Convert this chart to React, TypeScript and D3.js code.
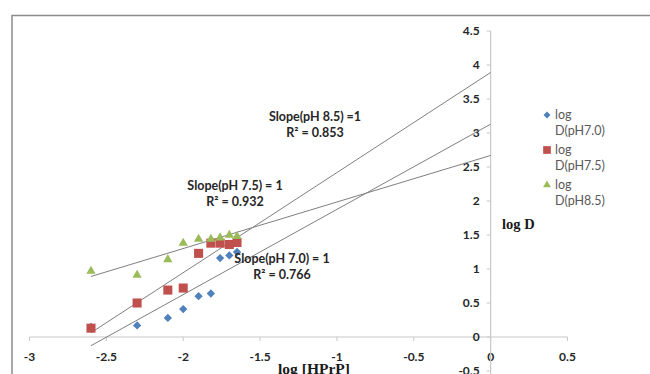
import React from "react";
import * as d3 from "d3";

const xValues = [-2.6, -2.3, -2.1, -2.0, -1.9, -1.82, -1.76, -1.7, -1.65];
const pH70 = [0.15, 0.17, 0.28, 0.41, 0.6, 0.64, 1.16, 1.2, 1.25];
const pH75 = [0.13, 0.5, 0.69, 0.72, 1.23, 1.38, 1.38, 1.36, 1.39];
const pH85 = [0.97, 0.91, 1.14, 1.38, 1.44, 1.44, 1.46, 1.5, 1.48];

const trendX = [-2.6, 0];
const trend70 = [-0.128, 3.13];
const trend75 = [0.063, 3.89];
const trend85 = [0.89, 2.67];

const xTicks = [-3, -2.5, -2, -1.5, -1, -0.5, 0, 0.5];
const yTicks = [-0.5, 0, 0.5, 1, 1.5, 2, 2.5, 3, 3.5, 4, 4.5];

const seriesNames = ["D(pH7.0)", "D(pH7.5)", "D(pH8.5)"];
const colors = ["#4F81BD", "#C0504D", "#9BBB59"];

const W = 650;
const H = 374;

export default function App() {
  const x = d3.scaleLinear().domain([-3, 0.5]).range([29.5, 567.5]);
  const y = d3.scaleLinear().domain([-0.5, 4.5]).range([371, 31]);
  const line = d3
    .line<[number, number]>()
    .x((d) => x(d[0]))
    .y((d) => y(d[1]));
  const tickFont = "Lato, 'Liberation Sans', sans-serif";
  const serif = "'Liberation Serif', 'DejaVu Serif', serif";
  const labelColor = "#262626";

  const diamond = d3.symbol().type(d3.symbolDiamond2).size(44)();
  const square = d3.symbol().type(d3.symbolSquare).size(82)();
  const triangle = d3.symbol().type(d3.symbolTriangle2).size(62)();
  const shapes = [diamond, square, triangle];
  const series = [pH70, pH75, pH85];
  const trends = [trend70, trend75, trend85];

  const trendLabels = [
    { cx: 282, cy: 259, a: "Slope(pH 7.0) = 1", b: "R² = 0.766" },
    { cx: 235, cy: 186, a: "Slope(pH 7.5) = 1", b: "R² = 0.932" },
    { cx: 315, cy: 117, a: "Slope(pH 8.5) =1", b: "R² = 0.853" },
  ];

  return (
    <svg
      width={W}
      height={H}
      style={{ position: "absolute", left: 0, top: 0, background: "#fff" }}
    >
      <rect x={0} y={0} width={W} height={H} fill="#fff" />
      <rect
        x={12}
        y={15.5}
        width={720}
        height={420}
        fill="#fff"
        stroke="#8c8c8c"
        strokeWidth={1.5}
      />
      {/* x axis */}
      <line x1={x(-3)} x2={x(0.5)} y1={y(0)} y2={y(0)} stroke="#c8c8c8" strokeWidth={1.2} />
      {xTicks.map((t) => (
        <g key={"xt" + t}>
          <line x1={x(t)} x2={x(t)} y1={y(0)} y2={y(0) + 4} stroke="#c8c8c8" />
          <text
            x={x(t)}
            y={y(0) + 24}
            textAnchor="middle"
            fontFamily={tickFont}
            fontWeight="bold"
            fontSize={12}
            fill={labelColor}
          >
            {t}
          </text>
        </g>
      ))}
      {/* y axis */}
      <line x1={x(0)} x2={x(0)} y1={y(4.5)} y2={H + 5} stroke="#c8c8c8" strokeWidth={1.2} />
      {yTicks.map((t) => (
        <g key={"yt" + t}>
          <line x1={x(0) - 4} x2={x(0)} y1={y(t)} y2={y(t)} stroke="#c8c8c8" />
          <text
            x={x(0) - 11}
            y={y(t)}
            dy="0.35em"
            textAnchor="end"
            fontFamily={tickFont}
            fontWeight="bold"
            fontSize={12}
            fill={labelColor}
          >
            {t}
          </text>
        </g>
      ))}
      {/* trend lines */}
      {trends.map((tr, i) => (
        <path
          key={"tr" + i}
          d={line([
            [trendX[0], tr[0]],
            [trendX[1], tr[1]],
          ]) as string}
          fill="none"
          stroke="#7f7f7f"
          strokeWidth={1}
        />
      ))}
      {/* points */}
      {series.map((s, i) => (
        <g key={"s" + i} fill={colors[i]}>
          {s.map((v, j) => (
            <path
              key={j}
              d={shapes[i] as string}
              transform={`translate(${x(xValues[j])},${y(v)})`}
            />
          ))}
        </g>
      ))}
      {/* trend labels */}
      {trendLabels.map((l, i) => (
        <g
          key={"tl" + i}
          fontFamily={tickFont}
          fontWeight="bold"
          fontSize={12.5}
          fill={labelColor}
          textAnchor="middle"
        >
          <text x={l.cx} y={l.cy} dy="0.35em">
            {l.a}
          </text>
          <text x={l.cx} y={l.cy + 15.5} dy="0.35em">
            {l.b}
          </text>
        </g>
      ))}
      {/* legend */}
      {seriesNames.map((n, i) => {
        const cy = 115 + i * 35;
        return (
          <g key={"lg" + i}>
            <path
              d={shapes[i] as string}
              fill={colors[i]}
              transform={`translate(547,${cy}) scale(0.85)`}
            />
            <text
              x={555}
              y={cy}
              dy="0.35em"
              fontFamily={tickFont}
              fontSize={12.5}
              fill="#595959"
            >
              log
            </text>
            <text
              x={555}
              y={cy + 16}
              dy="0.35em"
              fontFamily={tickFont}
              fontSize={12.5}
              fill="#595959"
            >
              {n}
            </text>
          </g>
        );
      })}
      {/* axis titles */}
      <text
        x={502}
        y={224}
        dy="0.35em"
        fontFamily={serif}
        fontWeight="bold"
        fontSize={14.5}
        fill="#1a1a1a"
      >
        log D
      </text>
      <text
        x={314}
        y={369}
        dy="0.35em"
        textAnchor="middle"
        fontFamily={serif}
        fontWeight="bold"
        fontSize={15.5}
        fill="#1a1a1a"
      >
        log [HPrP]
      </text>
    </svg>
  );
}
